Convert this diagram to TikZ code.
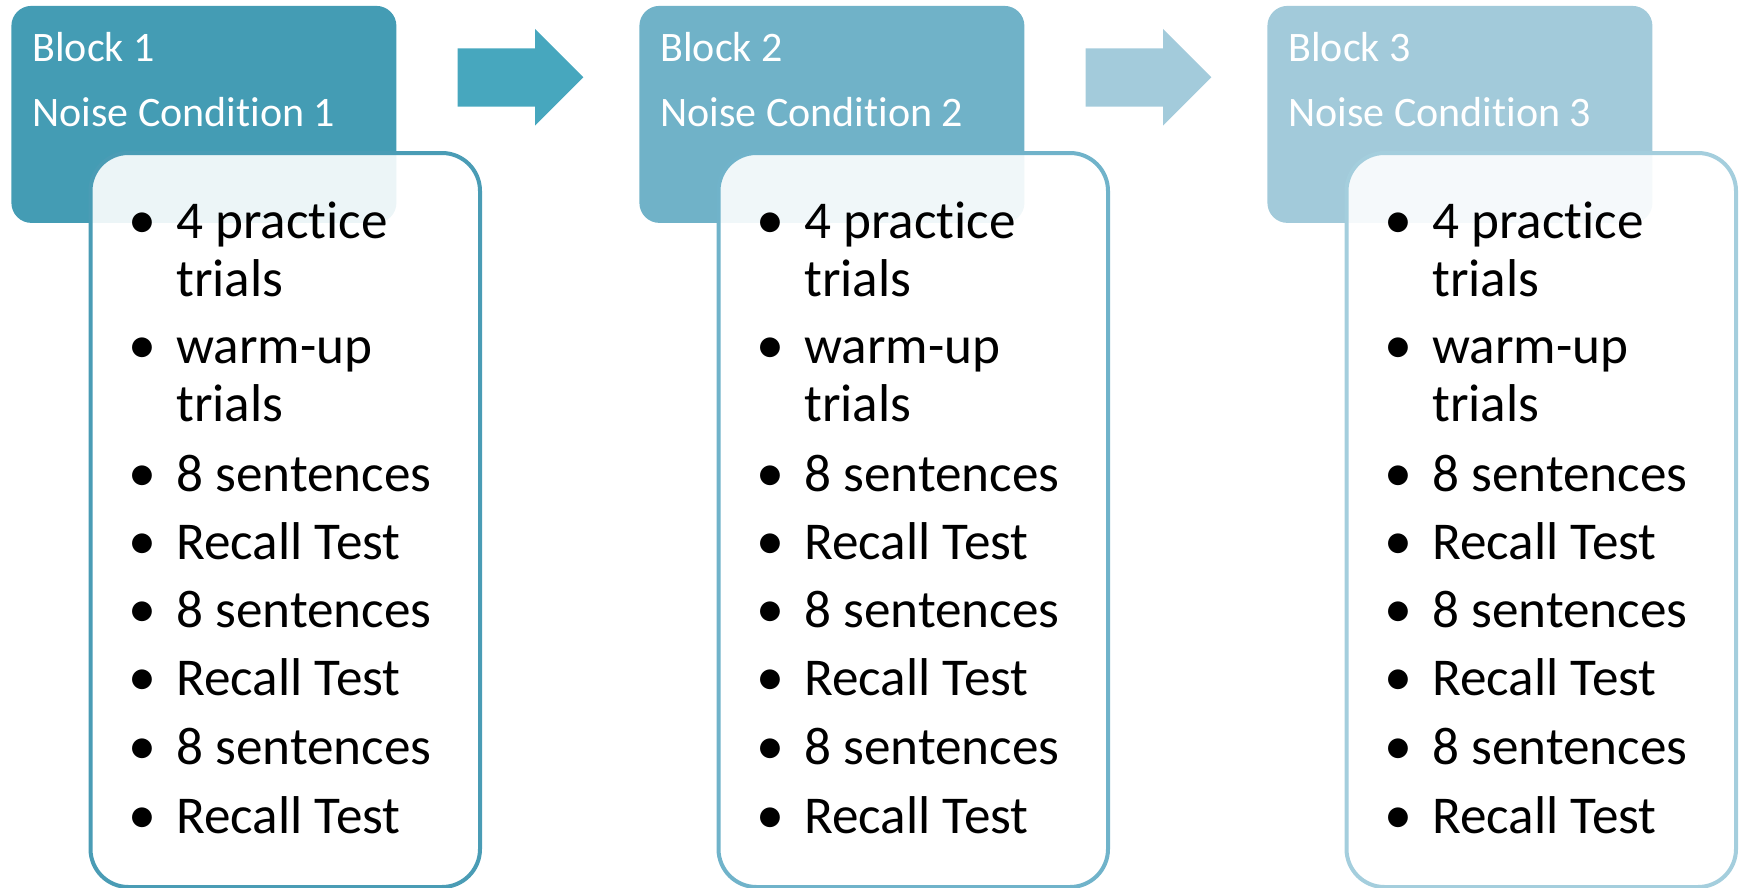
\documentclass[tikz,border=0pt]{standalone}
\usepackage{fontspec}
\setmainfont{Carlito}[Ligatures=NoCommon]
\definecolor{hdrA}{RGB}{68,156,180}
\definecolor{hdrB}{RGB}{112,178,200}
\definecolor{hdrC}{RGB}{162,202,218}
\definecolor{arrA}{RGB}{71,167,190}
\definecolor{arrB}{RGB}{163,203,219}
\definecolor{lstA}{RGB}{74,156,181}
\definecolor{lstB}{RGB}{112,179,202}
\definecolor{lstC}{RGB}{164,206,221}
\tikzset{
  hdrbox/.style={rectangle, rounded corners=10pt, anchor=north west,
    minimum width=192.5pt, minimum height=108.5pt, inner sep=0pt},
  lstbox/.style={rectangle, rounded corners=19pt, anchor=north west,
    line width=2pt, fill=white, fill opacity=0.9, draw opacity=1,
    minimum width=194.75pt, minimum height=367pt, inner sep=0pt},
  hdrtxt/.style={anchor=base west, inner sep=0pt, text=white,
    font=\fontsize{21}{25}\selectfont},
  itemtxt/.style={anchor=base west, inner sep=0pt,
    font=\fontsize{26.6}{30}\selectfont},
  itemdot/.style={anchor=base, inner sep=0pt,
    font=\fontsize{28}{30}\selectfont},
}
\begin{document}
\begin{tikzpicture}[x=0.5pt, y=-0.5pt]
\useasboundingbox (0,0) rectangle (1739,888);

% block arrows
\foreach \dx/\ac in {0/arrA, 628/arrB}
  \fill[\ac] (457.7+\dx, 48.5) -- (535+\dx, 48.5) -- (535+\dx, 29) --
    (583.3+\dx, 77.3) -- (535+\dx, 125.7) -- (535+\dx, 106.7) --
    (457.7+\dx, 106.7) -- cycle;

% the three blocks
\foreach \n/\dx/\hc/\lc in {1/0/hdrA/lstA, 2/628/hdrB/lstB, 3/1256/hdrC/lstC} {
  \node[hdrbox, fill=\hc] (hdr\n) at (11+\dx, 5.5) {};
  \node[lstbox, draw=\lc] (lst\n) at (88.5+\dx, 151) {};
  \node[hdrtxt] (blk\n) at (32+\dx, 61.7) {Block \n};
  \node[hdrtxt] (cnd\n) at (32+\dx, 126.7) {Noise Condition \n};
  \foreach \y/\t [count=\k] in {238.5/4 practice, 296/trials,
      363.5/warm-up, 421/trials, 491.5/8 sentences, 559.5/Recall Test,
      627/8 sentences, 695/Recall Test, 764.5/8 sentences, 833/Recall Test}
    \node[itemtxt] (item\n-\k) at (176+\dx, \y) {\t};
  \foreach \y [count=\k] in {238.5, 363.5, 491.5, 559.5, 627, 695, 764.5, 833}
    \node[itemdot] (dot\n-\k) at (142.7+\dx, \y) {\textbullet};
}

\end{tikzpicture}
\end{document}
